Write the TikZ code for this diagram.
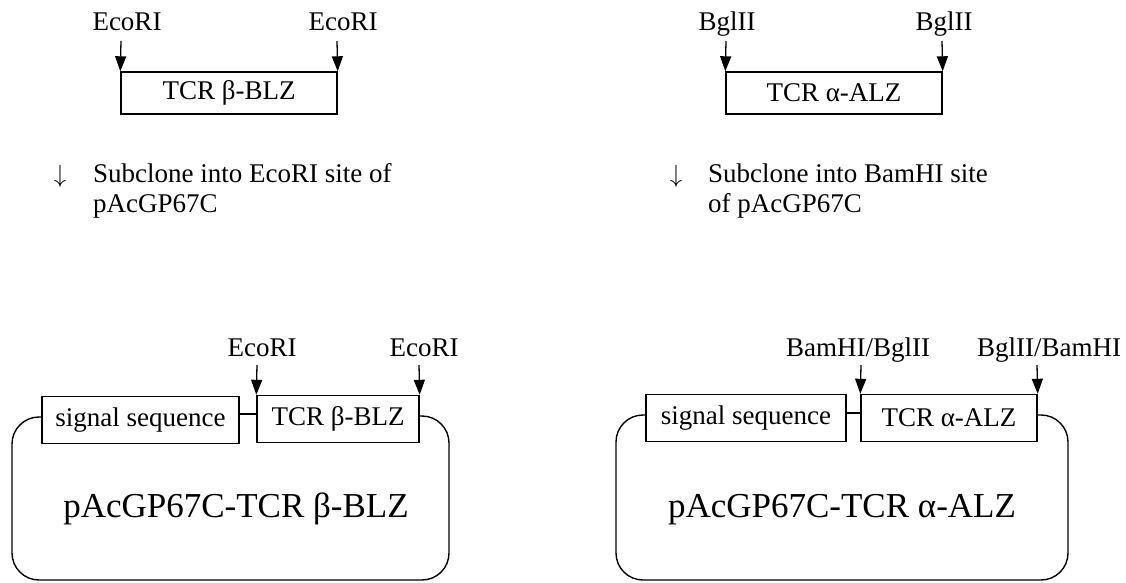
\documentclass[tikz,border=0pt]{standalone}
\usepackage{fontspec}
\setmainfont{Liberation Serif}
\usetikzlibrary{arrows.meta}
\begin{document}
\begin{tikzpicture}[x=1pt,y=-1pt,
  lw/.style={line width=1.4pt},
  body/.style={font=\fontsize{27}{31}\selectfont, inner sep=0pt},
  big/.style={font=\fontsize{35}{40}\selectfont, inner sep=0pt},
  stepsign/.style={font=\fontsize{26}{30}\selectfont, inner sep=0pt},
  genebox/.style={draw, line width=1.4pt, inner sep=0pt, font=\fontsize{27}{31}\selectfont},
  sitearrow/.style={line width=1.3pt, -{Triangle[length=15pt,width=11pt]}},
  vector/.style={line width=1.4pt, rounded corners=27pt}
]
\useasboundingbox (0,0) rectangle (1126,583);

% ---------- top left ----------
\node[genebox, minimum width=216pt, minimum height=42pt] (tl) at (229,93) {TCR β-BLZ};
\node[body, anchor=base] (tlE1) at (127,31) {EcoRI};
\node[body, anchor=base] (tlE2) at (343,31) {EcoRI};
\coordinate (tlA1) at (121,41);
\coordinate (tlA2) at (337,41);
\draw[sitearrow] (tlA1) -- (tl.north west);
\draw[sitearrow] (tlA2) -- (tl.north east);

\node[stepsign, anchor=base] (tlDown) at (60,182) {$\downarrow$};
\node[body, anchor=base west] (tlS1) at (93,182) {Subclone into EcoRI site of};
\node[body, anchor=base west] (tlS2) at (93,212) {pAcGP67C};

% ---------- top right ----------
\node[genebox, minimum width=216pt, minimum height=42pt] (tr) at (834,93) {TCR α-ALZ};
\node[body, anchor=base] (trB1) at (727,31) {BglII};
\node[body, anchor=base] (trB2) at (944,31) {BglII};
\coordinate (trA1) at (726,41);
\coordinate (trA2) at (942,41);
\draw[sitearrow] (trA1) -- (tr.north west);
\draw[sitearrow] (trA2) -- (tr.north east);

\node[stepsign, anchor=base] (trDown) at (676,182) {$\downarrow$};
\node[body, anchor=base west] (trS1) at (708,182) {Subclone into BamHI site};
\node[body, anchor=base west] (trS2) at (708,212) {of pAcGP67C};

% ---------- bottom left ----------
\node[genebox, minimum width=197pt, minimum height=47pt] (blSig) at (140.5,420) {signal sequence};
\node[genebox, minimum width=162pt, minimum height=47pt] (blTcr) at (338,419) {TCR β-BLZ};
\draw[lw] ([yshift=6pt]blSig.east) -- ([yshift=5pt]blTcr.west);
\node[body, anchor=base] (blE1) at (262,356) {EcoRI};
\node[body, anchor=base] (blE2) at (424,356) {EcoRI};
\coordinate (blA1) at (257,365);
\coordinate (blA2) at (419,365);
\draw[sitearrow] (blA1) -- (blTcr.north west);
\draw[sitearrow] (blA2) -- (blTcr.north east);
\draw[vector] ([yshift=3pt]blSig.west) -| (12,580) -| (449,416) -- ([yshift=3pt]blTcr.east);
\node[big, anchor=base] (blName) at (236,517) {pAcGP67C-TCR β-BLZ};

% ---------- bottom right ----------
\node[genebox, minimum width=200pt, minimum height=47pt] (brSig) at (746,418) {signal sequence};
\node[genebox, minimum width=176pt, minimum height=47pt] (brTcr) at (949,418) {TCR α-ALZ};
\draw[lw] ([yshift=5pt]brSig.east) -- ([yshift=5pt]brTcr.west);
\node[body, anchor=base] (brB1) at (858,356) {BamHI/BglII};
\node[body, anchor=base] (brB2) at (1049,356) {BglII/BamHI};
\coordinate (brA1) at (861,365);
\coordinate (brA2) at (1037,365);
\draw[sitearrow] (brA1) -- (brTcr.north west);
\draw[sitearrow] (brA2) -- (brTcr.north east);
\draw[vector] ([yshift=3pt]brSig.west) -| (616,580) -| (1068,415) -- ([yshift=3pt]brTcr.east);
\node[big, anchor=base] (brName) at (842,517) {pAcGP67C-TCR α-ALZ};
\end{tikzpicture}
\end{document}
